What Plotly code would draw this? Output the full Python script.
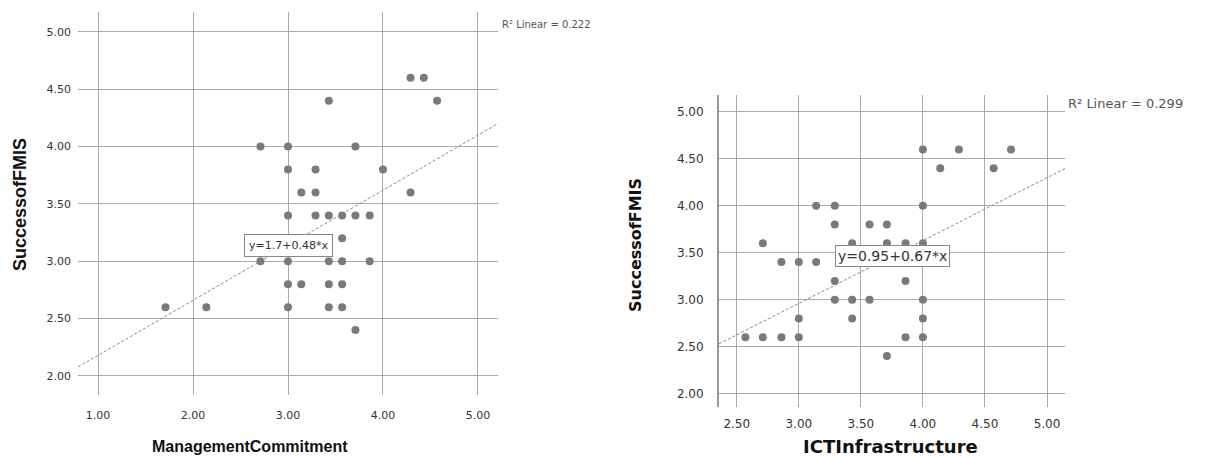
import plotly.graph_objects as go

# ---------------- data ----------------
# Left chart: ManagementCommitment vs SuccessofFMIS
mc_x = [4.29, 4.43, 3.43, 4.57, 2.71, 3.00, 3.71, 3.00, 3.29, 4.00, 3.14, 3.29, 4.29,
        3.00, 3.29, 3.43, 3.57, 3.71, 3.86, 3.57, 2.71, 3.00, 3.43, 3.57, 3.86,
        3.00, 3.14, 3.43, 3.57, 1.71, 2.14, 3.00, 3.43, 3.57, 3.71]
mc_y = [4.6, 4.6, 4.4, 4.4, 4.0, 4.0, 4.0, 3.8, 3.8, 3.8, 3.6, 3.6, 3.6,
        3.4, 3.4, 3.4, 3.4, 3.4, 3.4, 3.2, 3.0, 3.0, 3.0, 3.0, 3.0,
        2.8, 2.8, 2.8, 2.8, 2.6, 2.6, 2.6, 2.6, 2.6, 2.4]
mc_fit = [1.7, 0.48]          # intercept, slope
mc_eq = "y=1.7+0.48*x"
mc_r2 = "R² Linear = 0.222"
mc_xticks = [1.0, 2.0, 3.0, 4.0, 5.0]
mc_yticks = [2.0, 2.5, 3.0, 3.5, 4.0, 4.5, 5.0]

# Right chart: ICTInfrastructure vs SuccessofFMIS
ict_x = [4.00, 4.29, 4.71, 4.14, 4.57, 3.14, 3.29, 4.00, 3.29, 3.57, 3.71,
         2.71, 3.43, 3.71, 3.86, 4.00, 2.86, 3.00, 3.14, 3.29, 3.86,
         3.29, 3.43, 3.57, 4.00, 3.00, 3.43, 4.00,
         2.57, 2.71, 2.86, 3.00, 3.86, 4.00, 3.71]
ict_y = [4.6, 4.6, 4.6, 4.4, 4.4, 4.0, 4.0, 4.0, 3.8, 3.8, 3.8,
         3.6, 3.6, 3.6, 3.6, 3.6, 3.4, 3.4, 3.4, 3.2, 3.2,
         3.0, 3.0, 3.0, 3.0, 2.8, 2.8, 2.8,
         2.6, 2.6, 2.6, 2.6, 2.6, 2.6, 2.4]
ict_fit = [0.95, 0.67]
ict_eq = "y=0.95+0.67*x"
ict_r2 = "R² Linear = 0.299"
ict_xticks = [2.5, 3.0, 3.5, 4.0, 4.5, 5.0]
ict_yticks = [2.0, 2.5, 3.0, 3.5, 4.0, 4.5, 5.0]

y_title = "SuccessofFMIS"
mc_title = "ManagementCommitment"
ict_title = "ICTInfrastructure"

# ---------------- layout constants ----------------
W, H = 1210, 459
L_XR = [0.789, 5.211]
L_YR = [1.834, 5.174]
R_XR = [2.357, 5.145]
R_YR = [1.856, 5.181]

GRID = "#ababab"
MARK = "#7a7a7a"
FIT = "#8a8a8a"

fig = go.Figure()

fig.add_trace(go.Scatter(x=mc_x, y=mc_y, mode="markers", xaxis="x", yaxis="y",
                         marker=dict(size=8, color=MARK), showlegend=False))
fig.add_trace(go.Scatter(x=L_XR, y=[mc_fit[0] + mc_fit[1] * v for v in L_XR],
                         mode="lines", xaxis="x", yaxis="y",
                         line=dict(color=FIT, width=1, dash="3px,2px"), showlegend=False))

fig.add_trace(go.Scatter(x=ict_x, y=ict_y, mode="markers", xaxis="x2", yaxis="y2",
                         marker=dict(size=8, color=MARK), showlegend=False))
fig.add_trace(go.Scatter(x=R_XR, y=[ict_fit[0] + ict_fit[1] * v for v in R_XR],
                         mode="lines", xaxis="x2", yaxis="y2",
                         line=dict(color=FIT, width=1, dash="3px,2px"), showlegend=False))

tickfont_l = dict(family="DejaVu Sans", size=11, color="#333333")
tickfont_r = dict(family="DejaVu Sans", size=12, color="#333333")

common = dict(showgrid=True, gridcolor=GRID, gridwidth=1, zeroline=False,
              ticks="", showline=False, tickformat=".2f", fixedrange=True)

fig.update_layout(
    width=W, height=H,
    margin=dict(l=0, r=0, t=0, b=0),
    paper_bgcolor="white", plot_bgcolor="white",
    xaxis=dict(domain=[78 / W, 498 / W], range=L_XR, tickvals=mc_xticks,
               tickfont=tickfont_l, ticklabelstandoff=12, anchor="y", **common),
    yaxis=dict(domain=[1 - 395 / H, 1 - 12 / H], range=L_YR, tickvals=mc_yticks,
               tickfont=tickfont_l, ticklabelstandoff=6, anchor="x", **common),
    xaxis2=dict(domain=[719 / W, 1065 / W], range=R_XR, tickvals=ict_xticks,
                tickfont=tickfont_r, ticklabelstandoff=8, anchor="y2", **common),
    yaxis2=dict(domain=[1 - 407 / H, 1 - 95 / H], range=R_YR, tickvals=ict_yticks,
                tickfont=tickfont_r, ticklabelstandoff=11, anchor="x2",
                **{**common, "showline": True, "linecolor": "#999999", "linewidth": 2}),
)

ann = []
# regression equation boxes
ann.append(dict(x=3.0, y=3.14, xref="x", yref="y", text=mc_eq, showarrow=False,
                font=dict(family="DejaVu Sans", size=11, color="#333333"),
                bgcolor="white", bordercolor="#888888", borderwidth=1, borderpad=4))
ann.append(dict(x=3.755, y=3.466, xref="x2", yref="y2", text=ict_eq, showarrow=False,
                font=dict(family="DejaVu Sans", size=14, color="#333333"),
                bgcolor="white", bordercolor="#888888", borderwidth=1, borderpad=2))
# R squared
ann.append(dict(x=500 / W, y=1 - 24 / H, xref="paper", yref="paper", text=mc_r2,
                showarrow=False, xanchor="left", yanchor="middle",
                font=dict(family="DejaVu Sans", size=10, color="#555555")))
ann.append(dict(x=1066 / W, y=1 - 103 / H, xref="paper", yref="paper", text=ict_r2,
                showarrow=False, xanchor="left", yanchor="middle",
                font=dict(family="DejaVu Sans", size=13, color="#555555")))
# axis titles
ann.append(dict(x=250 / W, y=1 - 446 / H, xref="paper", yref="paper", text=mc_title,
                showarrow=False, xanchor="center", yanchor="middle",
                font=dict(family="Liberation Sans", size=16, color="#111111", weight="bold")))
ann.append(dict(x=20 / W, y=1 - 205 / H, xref="paper", yref="paper", text=y_title,
                showarrow=False, xanchor="center", yanchor="middle", textangle=-90,
                font=dict(family="Liberation Sans", size=18, color="#111111", weight="bold")))
ann.append(dict(x=890 / W, y=1 - 446 / H, xref="paper", yref="paper", text=ict_title,
                showarrow=False, xanchor="center", yanchor="middle",
                font=dict(family="DejaVu Sans", size=18, color="#111111", weight="bold")))
ann.append(dict(x=636 / W, y=1 - 245 / H, xref="paper", yref="paper", text=y_title,
                showarrow=False, xanchor="center", yanchor="middle", textangle=-90,
                font=dict(family="DejaVu Sans", size=16, color="#111111", weight="bold")))
fig.update_layout(annotations=ann)

fig.write_html("out.html", config={"displayModeBar": False},
               post_script="document.body.style.margin='0';document.body.style.overflow='hidden';")
